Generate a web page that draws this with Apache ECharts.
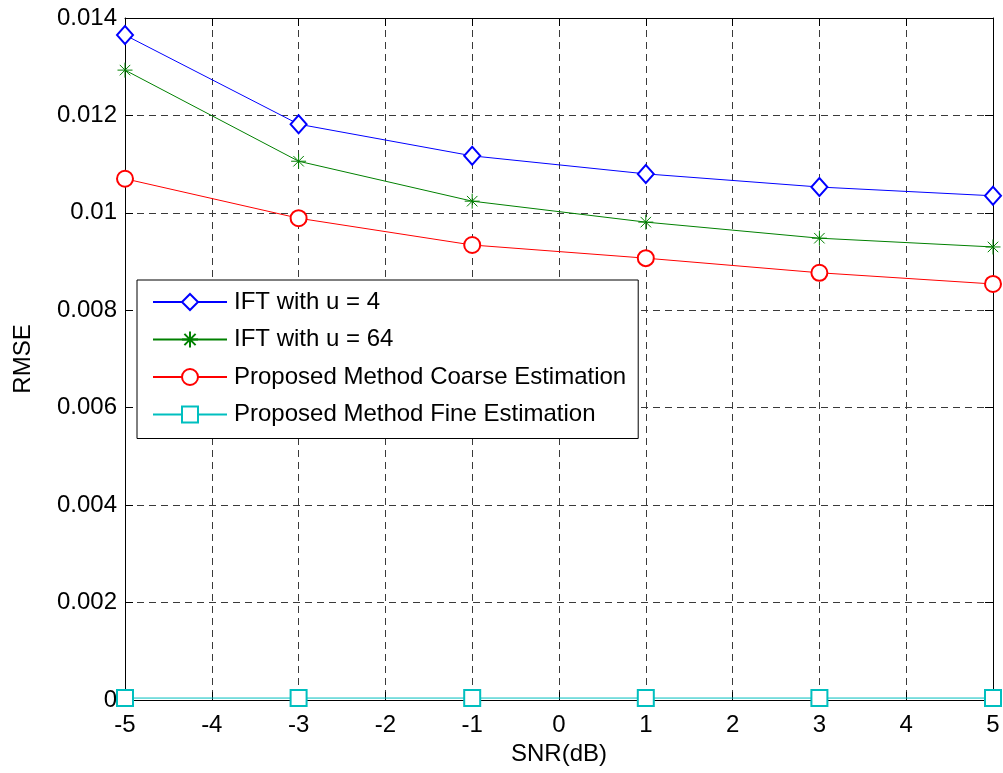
<!DOCTYPE html>
<html>
<head>
<meta charset="utf-8">
<script src="https://cdn.jsdelivr.net/npm/echarts@6/dist/echarts.min.js"></script>
<style>html,body{margin:0;padding:0;background:#fff;}#c{width:1003px;height:773px;}</style>
</head>
<body>
<div id="c"></div>
<script>
const snr = [-5, -3, -1, 1, 3, 5];
const ift4 = [0.01365, 0.01182, 0.01117, 0.01080, 0.01053, 0.01035];
const ift64 = [0.01293, 0.01106, 0.01024, 0.00981, 0.00948, 0.00930];
const coarse = [0.01070, 0.00989, 0.00934, 0.00907, 0.00877, 0.00854];
const fine = [0.00004, 0.00004, 0.00004, 0.00004, 0.00004, 0.00004];
const seriesNames = ['IFT with u = 4', 'IFT with u = 64', 'Proposed Method Coarse Estimation', 'Proposed Method Fine Estimation'];
const xTitle = 'SNR(dB)';
const yTitle = 'RMSE';

const FONT = 'Liberation Sans, Arial, Helvetica, sans-serif';
const pair = (ys) => snr.map((x, i) => [x, ys[i]]);
const asterisk = 'path://M0,-1L0,1M-1,0L1,0M-0.7,-0.7L0.7,0.7M-0.7,0.7L0.7,-0.7';

function mk(name, ys, color, symbol, size, extra) {
  return Object.assign({
    name, type: 'line', data: pair(ys), symbol, symbolSize: size,
    xAxisIndex: 0, yAxisIndex: 0,
    lineStyle: { color, width: 1 },
    itemStyle: { color, borderColor: color, borderWidth: 1 },
    emphasis: { disabled: true }, animation: false, z: 5
  }, extra || {});
}

const chart = echarts.init(document.getElementById('c'));
const gridLine = { show: true, lineStyle: { color: '#3a3a3a', type: [7, 5], width: 1 } };
const axisLineStyle = { show: true, onZero: false, lineStyle: { color: '#000', width: 1 } };
const tick = { show: true, inside: true, length: 8, lineStyle: { color: '#000' } };
chart.setOption({
  animation: false,
  grid: { left: 125, right: 10, top: 18, bottom: 73, containLabel: false },
  xAxis: [{
    type: 'value', min: -5, max: 5, interval: 1, position: 'bottom',
    name: xTitle, nameLocation: 'middle', nameGap: 34,
    nameTextStyle: { fontFamily: FONT, fontSize: 24, color: '#000' },
    axisLine: axisLineStyle, axisTick: tick,
    axisLabel: { fontFamily: FONT, fontSize: 24, color: '#000', margin: 13 },
    splitLine: gridLine, z: 3
  }, {
    type: 'value', min: -5, max: 5, interval: 1, position: 'top',
    axisLine: axisLineStyle, axisTick: tick,
    axisLabel: { show: false }, splitLine: { show: false }, z: 3
  }],
  yAxis: [{
    type: 'value', min: 0, max: 0.014, interval: 0.002, position: 'left',
    name: yTitle, nameLocation: 'middle', nameGap: 90,
    nameTextStyle: { fontFamily: FONT, fontSize: 24, color: '#000' },
    axisLine: axisLineStyle, axisTick: tick,
    axisLabel: { fontFamily: FONT, fontSize: 24, color: '#000', margin: 8,
      formatter: v => v === 0 ? '0' : String(+v.toFixed(3)) },
    splitLine: gridLine, z: 3
  }, {
    type: 'value', min: 0, max: 0.014, interval: 0.002, position: 'right',
    axisLine: axisLineStyle, axisTick: tick,
    axisLabel: { show: false }, splitLine: { show: false }, z: 3
  }],
  legend: {
    left: 137, top: 280, orient: 'vertical',
    backgroundColor: '#fff', borderColor: '#000', borderWidth: 1,
    padding: [10, 12, 12, 15], itemGap: 13.5, itemWidth: 74, itemHeight: 20,
    textStyle: { fontFamily: FONT, fontSize: 24, color: '#000', lineHeight: 24, padding: [0, 0, 0, 2] },
    selectedMode: false,
    data: seriesNames
  },
  series: [
    mk(seriesNames[0], ift4, '#0000ff', 'emptyDiamond', [16, 18]),
    mk(seriesNames[1], ift64, '#008000', asterisk, 15),
    mk(seriesNames[2], coarse, '#ff0000', 'emptyCircle', 16),
    mk(seriesNames[3], fine, '#00bfbf', 'emptyRect', 16)
  ]
});
</script>
</body>
</html>
